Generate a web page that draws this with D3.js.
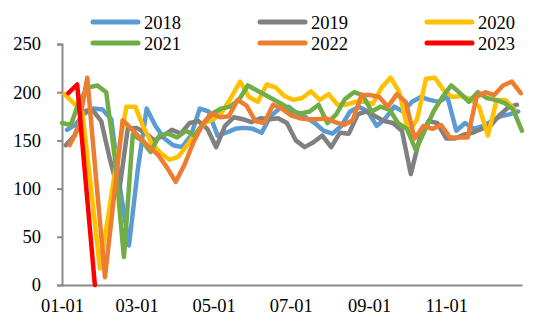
<!DOCTYPE html>
<html>
<head>
<meta charset="utf-8">
<script src="https://cdn.jsdelivr.net/npm/d3@7/dist/d3.min.js"></script>
<style>
  html, body { margin: 0; padding: 0; background: #fff; }
  svg { display: block; }
  text { font-family: "Liberation Serif", "Times New Roman", serif; fill: #000; }
</style>
</head>
<body>
<svg id="chart" width="550" height="331"></svg>
<script>
// ---- data ----
const years = ["2018", "2019", "2020", "2021", "2022", "2023"];
const colors = ["#5B9BD5", "#808080", "#FFC000", "#70AD47", "#ED7D31", "#FF0000"];
// first weekly observation (Friday) of each year
const firstDates = ["2018-01-05", "2019-01-04", "2020-01-03", "2021-01-01", "2022-01-07", "2023-01-06"];

const v2018 = [161,167,178,183,182,172,100,41,120,183,165,152,145,143,155,183,180,155,158,162,163,162,158,175,183,185,178,174,168,160,157,165,180,185,180,165,173,185,180,190,195,192,190,195,160,168,162,165,170,175,177,180];
const v2019 = [145,155,180,182,170,130,95,162,163,158,150,155,161,157,168,170,162,143,165,174,172,169,173,172,173,168,150,143,148,155,143,158,157,177,180,175,170,168,160,115,152,170,168,152,152,156,158,162,165,176,184,187];
const v2020 = [198,189,180,100,17,75,135,185,185,165,147,137,130,133,145,158,168,172,180,195,211,195,190,208,205,196,192,194,201,192,198,187,187,190,190,188,205,215,200,158,172,214,215,202,195,196,193,185,155,192,192,182];
const v2021 = [168,166,192,205,207,200,130,29,156,150,138,155,157,153,160,155,168,178,183,185,192,207,202,197,192,187,180,178,180,187,168,177,193,200,197,180,185,182,168,162,140,160,180,195,207,199,190,200,194,192,189,182,160];
const v2022 = [145,163,215,110,8,90,171,162,152,143,135,122,107,125,148,166,178,174,175,192,186,170,168,187,183,176,173,172,172,173,169,166,171,197,197,195,185,198,190,152,165,162,166,153,153,153,195,200,197,207,211,199];
const v2023 = [199,208,104,0];

const seriesValues = [v2018, v2019, v2020, v2021, v2022, v2023];
const yTicks = [0, 50, 100, 150, 200, 250];
const xTickDates = ["01-01", "03-01", "05-01", "07-01", "09-01", "11-01"];

// ---- build series (weekly dates mapped onto a common calendar year) ----
const parse = d3.timeParse("%Y-%m-%d");
const series = years.map((y, i) => {
  const start = parse(firstDates[i]);
  const pts = seriesValues[i].map((v, k) => {
    const d = d3.timeDay.offset(start, 7 * k);
    const common = new Date(2018, d.getMonth(), d.getDate());
    return { date: common, value: v };
  });
  return { year: y, color: colors[i], points: pts };
});

// ---- layout ----
const svg = d3.select("#chart");
const x = d3.scaleTime()
  .domain([new Date(2018, 0, 1), new Date(2018, 11, 31)])
  .range([62, 522]);
const y = d3.scaleLinear().domain([0, 250]).range([285, 44]);

const axisColor = "#8a8a8a";

// y axis
const yAxis = svg.append("g").attr("transform", "translate(62,0)")
  .call(d3.axisLeft(y).tickValues(yTicks).tickSize(5).tickPadding(16).tickFormat(d3.format("d")));
yAxis.select(".domain").attr("stroke", axisColor).attr("stroke-width", 2);
yAxis.selectAll(".tick line").attr("stroke", axisColor).attr("stroke-width", 2);
yAxis.selectAll("text").style("font-size", "18.5px").style("font-family", "Liberation Serif, serif").attr("fill", "#000");

// x axis
const fmtParse = d3.timeParse("%m-%d");
const xTicks = xTickDates.map(s => { const d = fmtParse(s); return new Date(2018, d.getMonth(), d.getDate()); });
const xAxis = svg.append("g").attr("transform", "translate(0,285)")
  .call(d3.axisBottom(x).tickValues(xTicks).tickSize(0).tickPadding(14).tickFormat(d3.timeFormat("%m-%d")));
xAxis.select(".domain").attr("stroke", axisColor).attr("stroke-width", 2);
xAxis.selectAll("text").style("font-size", "18.5px").style("font-family", "Liberation Serif, serif").attr("fill", "#000");

// lines
const line = d3.line().x(d => x(d.date)).y(d => y(d.value));
svg.append("g").selectAll("path").data(series).join("path")
  .attr("d", d => line(d.points))
  .attr("fill", "none")
  .attr("stroke", d => d.color)
  .attr("stroke-width", 4.5)
  .attr("stroke-linejoin", "round")
  .attr("stroke-linecap", "round");

// legend
const legendCols = [93, 260, 427];
const legendRows = [22, 43];
const leg = svg.append("g");
series.forEach((s, i) => {
  const cx = legendCols[i % 3], cy = legendRows[Math.floor(i / 3)];
  leg.append("line").attr("x1", cx).attr("x2", cx + 45).attr("y1", cy).attr("y2", cy)
    .attr("stroke", s.color).attr("stroke-width", 5).attr("stroke-linecap", "round");
  leg.append("text").attr("x", cx + 51).attr("y", cy + 6.5)
    .style("font-size", "18.5px").text(s.year);
});
</script>
</body>
</html>
